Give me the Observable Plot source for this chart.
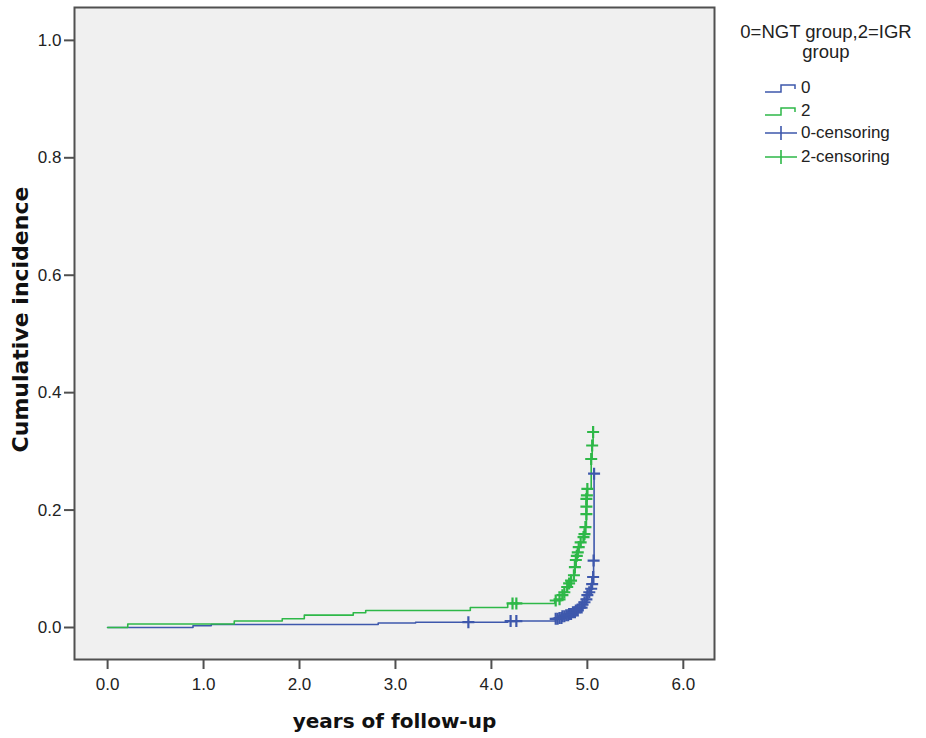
<!DOCTYPE html>
<html><head><meta charset="utf-8">
<script src="https://cdn.jsdelivr.net/npm/d3@7"></script>
<script src="https://cdn.jsdelivr.net/npm/@observablehq/plot@0.6"></script>
<style>
body{margin:0;background:#fff;}
#wrap{position:relative;width:926px;height:738px;overflow:hidden;}
#chart svg [aria-label="x-axis label"]{font-family:"DejaVu Sans",sans-serif;font-weight:bold;font-size:20px;fill:#111;}
#legend{position:absolute;left:728px;top:22px;width:196px;font-family:"Liberation Sans",Arial,sans-serif;color:#222;}
#legend .title{font-size:18.5px;line-height:20px;text-align:center;}
#legend .row{position:absolute;left:36px;height:20px;display:flex;align-items:center;font-size:17px;}
#legend .row svg{margin-right:3px;}
</style>
</head><body>
<div id="wrap"><div id="chart"></div><div id="legend"></div></div>
<script>
// ---- data ----
const groups = ["0", "2"];
const groupColors = ["#3e58ac", "#2eb848"];
const legendTitle = ["0=NGT group,2=IGR", "group"];
const legendLabels = ["0", "2", "0-censoring", "2-censoring"];
const xTitle = "years of follow-up";
const yTitle = "Cumulative incidence";
const xTicks = [0, 1, 2, 3, 4, 5, 6];
const yTicks = [0, 0.2, 0.4, 0.6, 0.8, 1.0];

// group 0 (NGT) step curve
const stepTime0 = [0, 0.89, 1.08, 2.82, 3.21, 4.17, 4.67, 4.71, 4.74, 4.78, 4.81, 4.85, 4.88, 4.92, 4.95, 4.97, 4.99, 5.00, 5.02, 5.04, 5.05, 5.065, 5.07];
const stepInc0  = [0, 0.003, 0.005, 0.0077, 0.009, 0.011, 0.0147, 0.016, 0.019, 0.021, 0.023, 0.026, 0.029, 0.034, 0.039, 0.043, 0.048, 0.055, 0.060, 0.066, 0.074, 0.114, 0.262];
// group 0 censoring marks
const censTime0 = [3.76, 4.20, 4.26, 4.67, 4.69, 4.71, 4.73, 4.74, 4.76, 4.78, 4.80, 4.81, 4.83, 4.85, 4.87, 4.88, 4.90, 4.92, 4.94, 4.95, 4.97, 4.99, 5.00, 5.02, 5.04, 5.05, 5.06, 5.065, 5.07];
const censInc0  = [0.009, 0.011, 0.011, 0.0147, 0.0147, 0.016, 0.016, 0.019, 0.019, 0.021, 0.021, 0.023, 0.023, 0.026, 0.026, 0.029, 0.029, 0.034, 0.034, 0.039, 0.043, 0.048, 0.055, 0.060, 0.066, 0.074, 0.086, 0.114, 0.262];

// group 2 (IGR) step curve
const stepTime2 = [0, 0.21, 1.32, 1.82, 2.05, 2.56, 2.69, 3.78, 4.17, 4.66, 4.71, 4.74, 4.76, 4.79, 4.81, 4.83, 4.86, 4.87, 4.88, 4.89, 4.90, 4.91, 4.93, 4.96, 4.97, 4.98, 4.99, 4.995, 5.00, 5.04, 5.05, 5.06];
const stepInc2  = [0, 0.006, 0.011, 0.015, 0.021, 0.025, 0.029, 0.034, 0.041, 0.046, 0.048, 0.055, 0.060, 0.069, 0.075, 0.080, 0.089, 0.103, 0.115, 0.122, 0.128, 0.137, 0.145, 0.154, 0.159, 0.171, 0.206, 0.225, 0.236, 0.287, 0.310, 0.333];
// group 2 censoring marks
const censTime2 = [4.22, 4.26, 4.67, 4.71, 4.74, 4.76, 4.79, 4.81, 4.83, 4.86, 4.87, 4.88, 4.89, 4.90, 4.91, 4.93, 4.96, 4.97, 4.98, 4.99, 4.99, 4.99, 4.995, 5.00, 5.04, 5.05, 5.06];
const censInc2  = [0.041, 0.041, 0.046, 0.048, 0.055, 0.060, 0.069, 0.075, 0.080, 0.089, 0.103, 0.115, 0.122, 0.128, 0.137, 0.145, 0.154, 0.159, 0.171, 0.193, 0.206, 0.219, 0.225, 0.236, 0.287, 0.310, 0.333];

// ---- build tables ----
const steps = [
  ...stepTime0.map((t, i) => ({group: "0", t, v: stepInc0[i]})),
  ...stepTime2.map((t, i) => ({group: "2", t, v: stepInc2[i]}))
];
const cens = [
  ...censTime0.map((t, i) => ({group: "0", t, v: censInc0[i]})),
  ...censTime2.map((t, i) => ({group: "2", t, v: censInc2[i]}))
];

const plusSymbol = {
  draw(ctx, size) {
    const r = Math.sqrt(size / Math.PI);
    ctx.moveTo(-r, 0); ctx.lineTo(r, 0);
    ctx.moveTo(0, -r); ctx.lineTo(0, r);
  }
};

const chart = Plot.plot({
  width: 926, height: 738,
  marginLeft: 74, marginRight: 212, marginTop: 7, marginBottom: 79,
  style: {fontFamily: "'Liberation Sans', Arial, sans-serif", fontSize: "17px", color: "#222", background: "transparent", overflow: "visible"},
  x: {domain: [-0.345, 6.325]},
  y: {domain: [-0.0545, 1.056]},
  color: {domain: groups, range: groupColors},
  marks: [
    Plot.frame({fill: "#f0f0f0", stroke: "#505050", strokeWidth: 2}),
    Plot.axisX({ticks: xTicks, tickFormat: d => d.toFixed(1), tickSize: 10, tickPadding: 8, stroke: "#505050", strokeWidth: 2,
      label: xTitle, labelAnchor: "center", labelArrow: "none", labelOffset: 68}),
    Plot.axisY({ticks: yTicks, tickFormat: d => d.toFixed(1), tickSize: 10, tickPadding: 3, stroke: "#505050", strokeWidth: 2,
      label: null}),
    Plot.text([yTitle], {frameAnchor: "left", rotate: -90, textAnchor: "middle", lineAnchor: "top", dx: -62, dy: -14,
      fontFamily: "DejaVu Sans, sans-serif", fontWeight: "bold", fontSize: 22, fill: "#111"}),
    Plot.line(steps, {x: "t", y: "v", z: "group", stroke: "group", curve: "step-after", strokeWidth: 1.6}),
    Plot.dot(cens, {x: "t", y: "v", stroke: "group", fill: "none", symbol: plusSymbol, r: 6, strokeWidth: 2.2})
  ]
});
document.getElementById("chart").appendChild(chart);

// ---- legend ----
const lg = document.getElementById("legend");
const ttl = document.createElement("div");
ttl.className = "title";
ttl.innerHTML = legendTitle.join("<br>");
lg.appendChild(ttl);
const rowTops = [56, 79, 101, 125];
legendLabels.forEach((lab, i) => {
  const row = document.createElement("div");
  row.className = "row";
  row.style.top = rowTops[i] + "px";
  const col = groupColors[i % 2];
  const icon = i < 2
    ? `<svg width="34" height="14"><path d="M1,11H17V4H31V8" fill="none" stroke="${col}" stroke-width="1.5"/></svg>`
    : `<svg width="34" height="16"><path d="M1,8H33M17,1V15" fill="none" stroke="${col}" stroke-width="1.6"/></svg>`;
  row.innerHTML = icon + `<span>${lab}</span>`;
  lg.appendChild(row);
});
</script>
</body></html>
